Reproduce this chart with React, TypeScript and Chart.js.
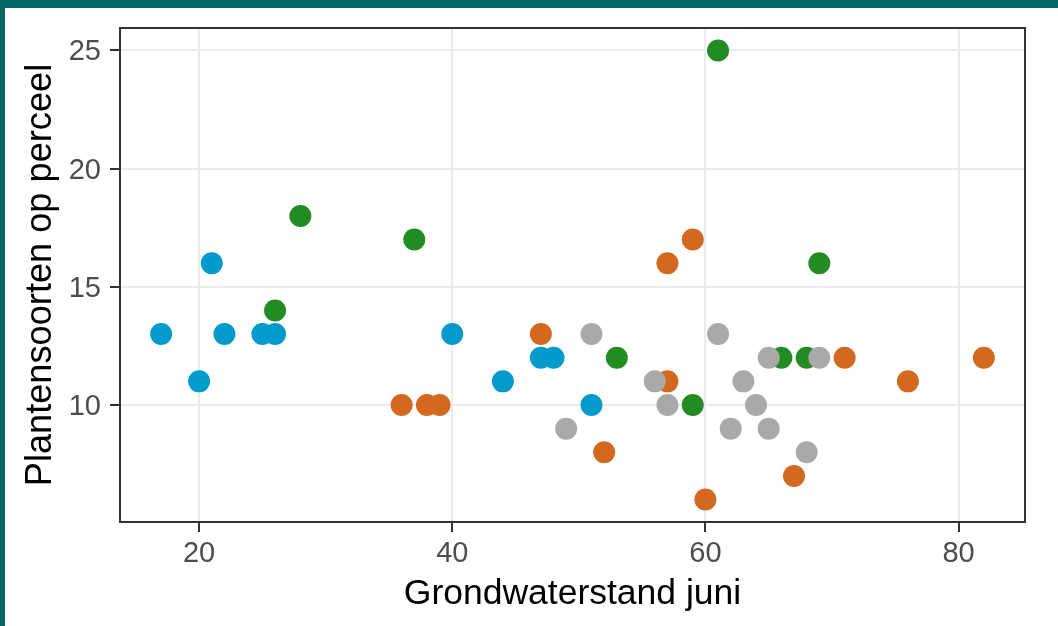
import React, { useEffect, useRef } from "react";
import { Chart, registerables } from "chart.js";

Chart.register(...registerables);

// Data
const blueX = [17, 20, 21, 22, 25, 26, 40, 44, 47, 48, 51];
const blueY = [13, 11, 16, 13, 13, 13, 13, 11, 12, 12, 10];
const greenX = [26, 28, 37, 53, 59, 61, 66, 68, 69];
const greenY = [14, 18, 17, 12, 10, 25, 12, 12, 16];
const orangeX = [36, 38, 39, 47, 52, 57, 57, 59, 60, 67, 71, 76, 82];
const orangeY = [10, 10, 10, 13, 8, 16, 11, 17, 6, 7, 12, 11, 12];
const grayX = [49, 51, 56, 57, 61, 62, 63, 64, 65, 65, 68, 69];
const grayY = [9, 13, 11, 10, 13, 9, 11, 10, 9, 12, 8, 12];

const xTicks = [20, 40, 60, 80];
const yTicks = [10, 15, 20, 25];
const xTitle = "Grondwaterstand juni";
const yTitle = "Plantensoorten op perceel";

const FONT = '"Liberation Sans", Arial, sans-serif';

function toPoints(xs: number[], ys: number[]) {
  return xs.map((x, i) => ({ x, y: ys[i] }));
}

const panelBorder = {
  id: "panelBorder",
  afterDraw(chart: any) {
    const { ctx, chartArea } = chart;
    ctx.save();
    ctx.strokeStyle = "#333333";
    ctx.lineWidth = 2;
    ctx.strokeRect(
      chartArea.left,
      chartArea.top,
      chartArea.right - chartArea.left,
      chartArea.bottom - chartArea.top
    );
    ctx.restore();
  },
};

export default function App() {
  const ref = useRef<HTMLCanvasElement>(null);

  useEffect(() => {
    const prevMargin = document.body.style.margin;
    document.body.style.margin = "0";
    const canvas = ref.current!;
    const mk = (label: string, xs: number[], ys: number[], color: string) => ({
      label,
      data: toPoints(xs, ys),
      backgroundColor: color,
      pointBackgroundColor: color,
      pointBorderWidth: 0,
      borderWidth: 0,
      pointRadius: 11,
      pointHoverRadius: 11,
      showLine: false,
    });
    const chart = new Chart(canvas, {
      type: "scatter",
      data: {
        datasets: [
          mk("blue", blueX, blueY, "#009ACD"),
          mk("gray", grayX, grayY, "#A9A9A9"),
          mk("green", greenX, greenY, "#228B22"),
          mk("orange", orangeX, orangeY, "#D2691E"),
        ],
      },
      options: {
        responsive: false,
        animation: false,
        devicePixelRatio: 1,
        layout: { padding: { left: 0, top: 28, right: 33, bottom: 0 } },
        plugins: {
          legend: { display: false },
          tooltip: { enabled: false },
        },
        scales: {
          x: {
            type: "linear",
            min: 13.75,
            max: 85.25,
            afterBuildTicks: (s: any) => {
              s.ticks = xTicks.map((v) => ({ value: v }));
            },
            afterFit: (s: any) => {
              s.height = 104;
            },
            grid: {
              color: "#EBEBEB",
              lineWidth: 2,
              tickColor: "#333333",
              tickWidth: 2,
              tickLength: 10,
            },
            border: { display: false },
            ticks: {
              color: "#4D4D4D",
              font: { family: FONT, size: 29 },
              padding: 5,
              maxRotation: 0,
              autoSkip: false,
            },
            title: {
              display: true,
              text: xTitle,
              color: "#000000",
              font: { family: FONT, size: 35.5 },
              padding: { top: 0, bottom: 10 },
            },
          },
          y: {
            type: "linear",
            min: 5.05,
            max: 25.95,
            afterBuildTicks: (s: any) => {
              s.ticks = yTicks.map((v) => ({ value: v }));
            },
            afterFit: (s: any) => {
              s.width = 120;
            },
            grid: {
              color: "#EBEBEB",
              lineWidth: 2,
              tickColor: "#333333",
              tickWidth: 2,
              tickLength: 10,
            },
            border: { display: false },
            ticks: {
              color: "#4D4D4D",
              font: { family: FONT, size: 29 },
              padding: 9,
              labelOffset: 2,
              autoSkip: false,
            },
            title: {
              display: true,
              text: yTitle,
              color: "#000000",
              font: { family: FONT, size: 36.2 },
              padding: { top: 19, bottom: 0 },
            },
          },
        },
      },
      plugins: [panelBorder],
    } as any);
    return () => {
      chart.destroy();
      document.body.style.margin = prevMargin;
    };
  }, []);

  return (
    <div
      style={{
        position: "fixed",
        left: 0,
        top: 0,
        width: 1058,
        height: 626,
        background: "#ffffff",
        overflow: "hidden",
      }}
    >
      <canvas
        ref={ref}
        width={1058}
        height={626}
        style={{ position: "absolute", left: 0, top: 0, width: 1058, height: 626 }}
      />
      <div
        style={{
          position: "absolute",
          left: 0,
          top: 0,
          width: 1058,
          height: 8,
          background: "#006767",
        }}
      />
      <div
        style={{
          position: "absolute",
          left: 0,
          top: 0,
          width: 5,
          height: 626,
          background: "#006767",
        }}
      />
    </div>
  );
}
